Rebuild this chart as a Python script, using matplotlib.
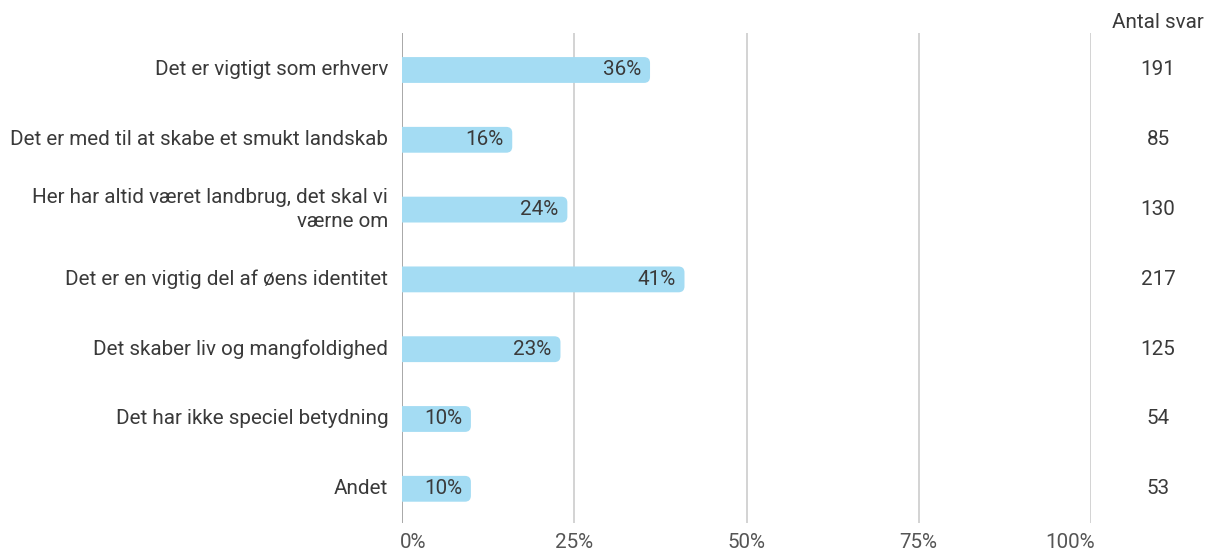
import matplotlib.pyplot as plt
from matplotlib.patches import FancyBboxPatch

plt.rcParams['font.family'] = ['Roboto', 'DejaVu Sans']

# data
kategorier = ["Det er vigtigt som erhverv",
              "Det er med til at skabe et smukt landskab",
              "Her har altid været landbrug, det skal vi\nværne om",
              "Det er en vigtig del af øens identitet",
              "Det skaber liv og mangfoldighed",
              "Det har ikke speciel betydning",
              "Andet"]
procent = [36, 16, 24, 41, 23, 10, 10]
antal = [191, 85, 130, 217, 125, 54, 53]
xticks = [0, 25, 50, 75, 100]
xlabels = ["0%", "25%", "50%", "75%", "100%"]

W, H = 1206, 552
fig = plt.figure(figsize=(W / 100, H / 100), dpi=100)
left, right, top, bottom = 402, 1091, 33, 523
ax = fig.add_axes([left / W, 1 - bottom / H, (right - left) / W, (bottom - top) / H])

farve = "#a4dcf3"
tekst = "#3a3a3a"
fs = 14.9
ax.set_xlim(0, 100)
ax.set_ylim(6.49, -0.53)

px_x = (right - left) / 100.0
px_y = (bottom - top) / 7.02
hoejde = 0.37
r = 6 / px_x

for i, v in enumerate(procent):
    # starter til venstre for aksen, saa venstre hjoerne klippes vaek
    p = FancyBboxPatch((-3, i - hoejde / 2), v + 3, hoejde,
                       boxstyle="round,pad=0,rounding_size=%f" % r,
                       mutation_aspect=px_x / px_y,
                       fc=farve, ec="none", zorder=2)
    ax.add_patch(p)
    ax.text(v - 1.3, i, "%d%%" % v, ha="right", va="center", fontsize=fs,
            color=tekst, zorder=3)
    ax.text(-2.0, i, kategorier[i], ha="right", va="center", fontsize=fs,
            color=tekst, linespacing=1.3)
    fig.text(1158 / W, 1 - (top + (i + 0.53) * px_y) / H, str(antal[i]),
             ha="center", va="center", fontsize=fs, color=tekst)

fig.text(1158 / W, 1 - 23 / H, "Antal svar", ha="center", va="center",
         fontsize=fs, color=tekst)

# gitter
for t in xticks:
    ax.axvline(t, color="#999999" if t == 0 else "#cccccc", lw=1.2, zorder=1)
for t, lab in zip(xticks, xlabels):
    ha = "left" if t == 0 else ("right" if t == 100 else "center")
    ax.text(t + (-0.3 if t == 0 else 0.5 if t == 100 else 0), 6.49 + 20 / px_y, lab,
            ha=ha, va="center", fontsize=fs, color="#555555")

ax.set_xticks([])
ax.set_yticks([])
for s in ax.spines.values():
    s.set_visible(False)

fig.savefig("out.png", dpi=100)
